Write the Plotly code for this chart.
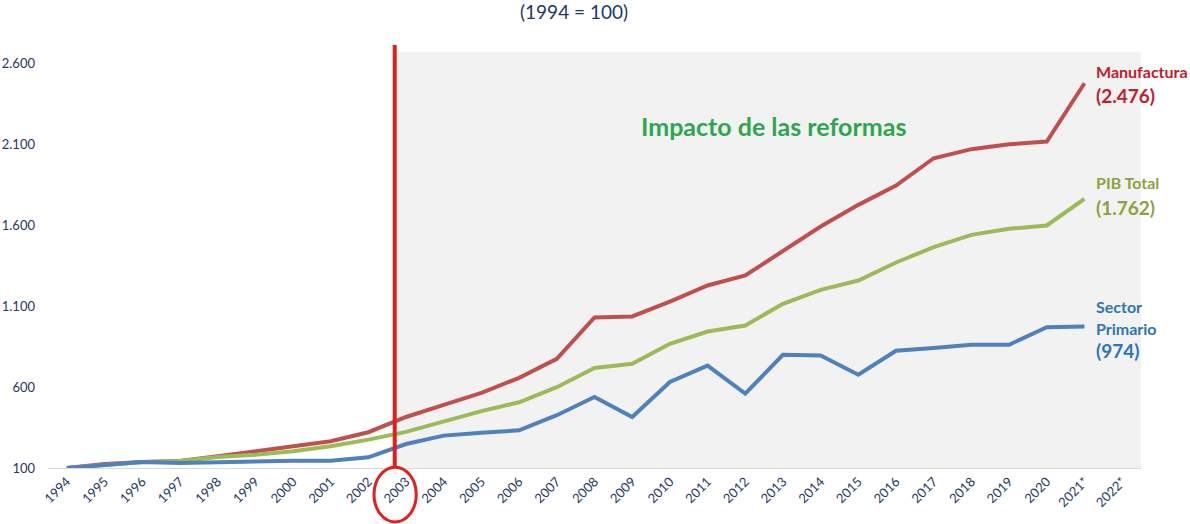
import plotly.graph_objects as go

years = ["1994", "1995", "1996", "1997", "1998", "1999", "2000", "2001", "2002", "2003",
         "2004", "2005", "2006", "2007", "2008", "2009", "2010", "2011", "2012", "2013",
         "2014", "2015", "2016", "2017", "2018", "2019", "2020", "2021*", "2022*"]

manufactura = [100, 125, 137, 143, 172, 203, 228, 265, 321, 415,
               490, 564, 657, 774, 1030, 1036, 1128, 1227, 1289, 1437,
               1591, 1725, 1844, 2013, 2069, 2099, 2116, 2476, None]

pib_total = [100, 121, 137, 143, 168, 182, 203, 234, 275, 323,
             389, 451, 506, 599, 718, 744, 867, 943, 980, 1114,
             1200, 1258, 1369, 1464, 1540, 1577, 1598, 1762, None]

sector_primario = [100, 121, 137, 131, 137, 141, 145, 145, 166, 248,
                   300, 317, 333, 426, 539, 415, 631, 732, 559, 799,
                   795, 676, 824, 841, 861, 861, 970, 974, None]

ytick_vals = [100, 600, 1100, 1600, 2100, 2600]
ytick_text = ["100", "600", "1.100", "1.600", "2.100", "2.600"]

FONT = "Lato"
NAVY = "#1f3864"

fig = go.Figure()
fig.add_trace(go.Scatter(x=years, y=manufactura, mode="lines",
                         line=dict(color="#c0504d", width=4), name="Manufactura"))
fig.add_trace(go.Scatter(x=years, y=pib_total, mode="lines",
                         line=dict(color="#9bbb59", width=4), name="PIB Total"))
fig.add_trace(go.Scatter(x=years, y=sector_primario, mode="lines",
                         line=dict(color="#4f81bd", width=4), name="Sector Primario"))

shapes = [
    # shaded reform period
    dict(type="rect", xref="x", yref="y", x0=8.77, x1=28.5, y0=100, y1=2670,
         fillcolor="#f2f2f2", line=dict(width=0), layer="below"),
    # vertical red marker line
    dict(type="line", xref="x", yref="paper", x0=8.7, x1=8.7, y0=0.002, y1=1.005,
         line=dict(color="#e0201c", width=4)),
    # ellipse round 2003 label
    dict(type="circle", xref="x", yref="paper", x0=8.15, x1=9.27, y0=-0.128, y1=0.002,
         line=dict(color="#e0201c", width=3)),
]

def ypix(p):
    return (468 - p) / 421

def xpix(p):
    return (p - 48) / 1093

annotations = [
    dict(text="(1994 = 100)", xref="paper", yref="paper", x=xpix(574), y=ypix(12),
         showarrow=False, font=dict(family=FONT, size=19, color=NAVY), xanchor="center", yanchor="middle"),
    dict(text="<b>Impacto de las reformas</b>", xref="paper", yref="paper", x=xpix(773), y=ypix(126),
         showarrow=False, font=dict(family=FONT, size=25, color="#2ea64f"), xanchor="center", yanchor="middle"),
    dict(text="<b>Manufactura</b>", xref="paper", yref="paper", x=xpix(1094), y=ypix(72),
         showarrow=False, font=dict(family=FONT, size=16, color="#c0202a"), xanchor="left", yanchor="middle"),
    dict(text="<b>(2.476)</b>", xref="paper", yref="paper", x=xpix(1094), y=ypix(95),
         showarrow=False, font=dict(family=FONT, size=19, color="#c0202a"), xanchor="left", yanchor="middle"),
    dict(text="<b>PIB Total</b>", xref="paper", yref="paper", x=xpix(1094), y=ypix(183),
         showarrow=False, font=dict(family=FONT, size=16, color="#8ca23e"), xanchor="left", yanchor="middle"),
    dict(text="<b>(1.762)</b>", xref="paper", yref="paper", x=xpix(1094), y=ypix(207),
         showarrow=False, font=dict(family=FONT, size=19, color="#8ca23e"), xanchor="left", yanchor="middle"),
    dict(text="<b>Sector</b>", xref="paper", yref="paper", x=xpix(1094), y=ypix(306),
         showarrow=False, font=dict(family=FONT, size=16, color="#2e75b6"), xanchor="left", yanchor="middle"),
    dict(text="<b>Primario</b>", xref="paper", yref="paper", x=xpix(1094), y=ypix(328),
         showarrow=False, font=dict(family=FONT, size=16, color="#2e75b6"), xanchor="left", yanchor="middle"),
    dict(text="<b>(974)</b>", xref="paper", yref="paper", x=xpix(1094), y=ypix(350),
         showarrow=False, font=dict(family=FONT, size=19, color="#2e75b6"), xanchor="left", yanchor="middle"),
]

fig.update_layout(
    width=1190, height=524,
    margin=dict(l=48, r=49, t=47, b=56, autoexpand=False),
    paper_bgcolor="white", plot_bgcolor="white",
    showlegend=False,
    font=dict(family=FONT, color=NAVY, size=12),
    shapes=shapes,
    annotations=annotations,
    xaxis=dict(type="category", categoryorder="array", categoryarray=years,
               range=[-0.5, 28.5], tickangle=-45, showgrid=False, showline=True,
               linecolor="#d9d9d9", linewidth=1, ticks="", zeroline=False,
               automargin=False,
               tickfont=dict(family=FONT, size=13, color=NAVY)),
    yaxis=dict(range=[100, 2700], tickvals=ytick_vals, ticktext=ytick_text,
               showgrid=False, zeroline=False, showline=False, ticks="",
               ticklabelstandoff=12, automargin=False,
               tickfont=dict(family=FONT, size=13, color=NAVY)),
)

fig.write_html("out.html", config={"displayModeBar": False},
               post_script="document.body.style.margin='0';document.body.style.overflow='hidden';")
